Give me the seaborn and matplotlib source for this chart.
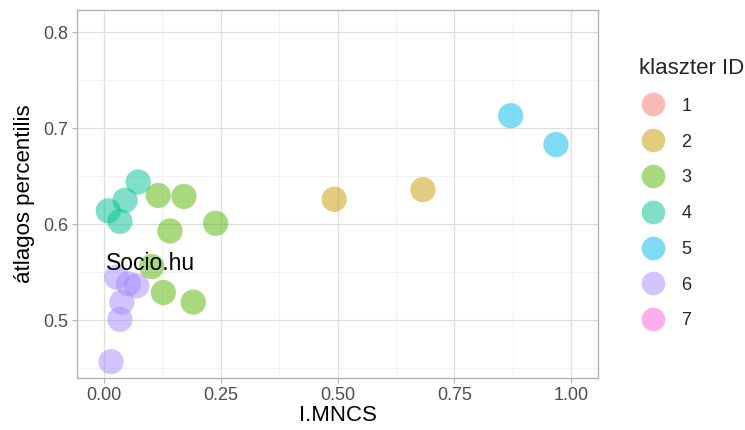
import matplotlib
matplotlib.use("Agg")
import matplotlib.pyplot as plt
import seaborn as sns
import pandas as pd
from matplotlib.ticker import MultipleLocator

# ---- data ----
cluster = [2, 2, 5, 5, 4, 4, 4, 4,
           3, 3, 3, 3, 3, 3, 3,
           6, 6, 6, 6, 6, 6]
mncs = [0.493, 0.683, 0.871, 0.968, 0.073, 0.045, 0.009, 0.034,
        0.116, 0.171, 0.239, 0.141, 0.102, 0.127, 0.191,
        0.027, 0.052, 0.070, 0.038, 0.034, 0.015]
percentilis = [0.626, 0.636, 0.713, 0.683, 0.644, 0.625, 0.614, 0.603,
               0.630, 0.629, 0.601, 0.593, 0.556, 0.529, 0.519,
               0.545, 0.538, 0.536, 0.519, 0.501, 0.457]
cluster_levels = ["1", "2", "3", "4", "5", "6", "7"]
cluster_colors = ["#F8766D", "#C49A00", "#53B400", "#00C094",
                  "#00B6EB", "#A58AFF", "#FB61D7"]
x_ticks = [0.00, 0.25, 0.50, 0.75, 1.00]
x_tick_labels = ["0.00", "0.25", "0.50", "0.75", "1.00"]
y_ticks = [0.5, 0.6, 0.7, 0.8]
y_tick_labels = ["0.5", "0.6", "0.7", "0.8"]

df = pd.DataFrame({"I.MNCS": mncs,
                   "átlagos percentilis": percentilis,
                   "klaszter ID": [str(c) for c in cluster]})

sns.set_theme(style="white")
plt.rcParams["font.family"] = ["Liberation Sans", "DejaVu Sans"]

fig = plt.figure(figsize=(7.45, 4.3), dpi=100)
ax = fig.add_axes([77/745, 1-378/430, (598-77)/745, (378-10)/430])

palette = dict(zip(cluster_levels, cluster_colors))
sns.scatterplot(data=df, x="I.MNCS", y="átlagos percentilis", hue="klaszter ID",
                hue_order=cluster_levels, palette=palette, alpha=0.5, s=330,
                linewidth=0, ax=ax, zorder=3, legend=False)

ax.set_xlim(-0.058, 1.058)
ax.set_ylim(0.440, 0.823)
ax.set_xticks(x_ticks)
ax.set_xticklabels(x_tick_labels)
ax.set_yticks(y_ticks)
ax.set_yticklabels(y_tick_labels)
ax.xaxis.set_minor_locator(MultipleLocator(0.125))
ax.yaxis.set_minor_locator(MultipleLocator(0.05))
ax.grid(which="major", color="#DEDEDE", linewidth=0.9, zorder=0)
ax.grid(which="minor", color="#EFEFEF", linewidth=0.6, zorder=0)
ax.set_axisbelow(True)
for sp in ax.spines.values():
    sp.set_color("#B3B3B3")
    sp.set_linewidth(1.0)
ax.tick_params(which="major", length=3.5, width=0.8, color="#B3B3B3",
               labelsize=13, labelcolor="#4D4D4D", pad=3, bottom=True, left=True)
ax.tick_params(which="minor", length=0)
ax.set_xlabel("I.MNCS", fontsize=16, color="black", labelpad=1)
ax.set_ylabel("átlagos percentilis", fontsize=16, color="black", labelpad=6)

ax.text(0.005, 0.559, "Socio.hu", fontsize=16.5, color="black",
        ha="left", va="center", zorder=4)

# legend with all cluster levels
handles = [plt.Line2D([], [], marker="o", linestyle="", markersize=17,
                      markerfacecolor=c, markeredgewidth=0, alpha=0.5)
           for c in cluster_colors]
leg = fig.legend(handles, cluster_levels, title="klaszter ID",
                 loc="upper left", bbox_to_anchor=(630/745, 1-49/430),
                 frameon=False, fontsize=13, title_fontsize=16,
                 labelspacing=1.04, handletextpad=0.75, borderpad=0,
                 handlelength=1.6)
leg._legend_box.align = "left"

fig.savefig("out.png", dpi=100)
